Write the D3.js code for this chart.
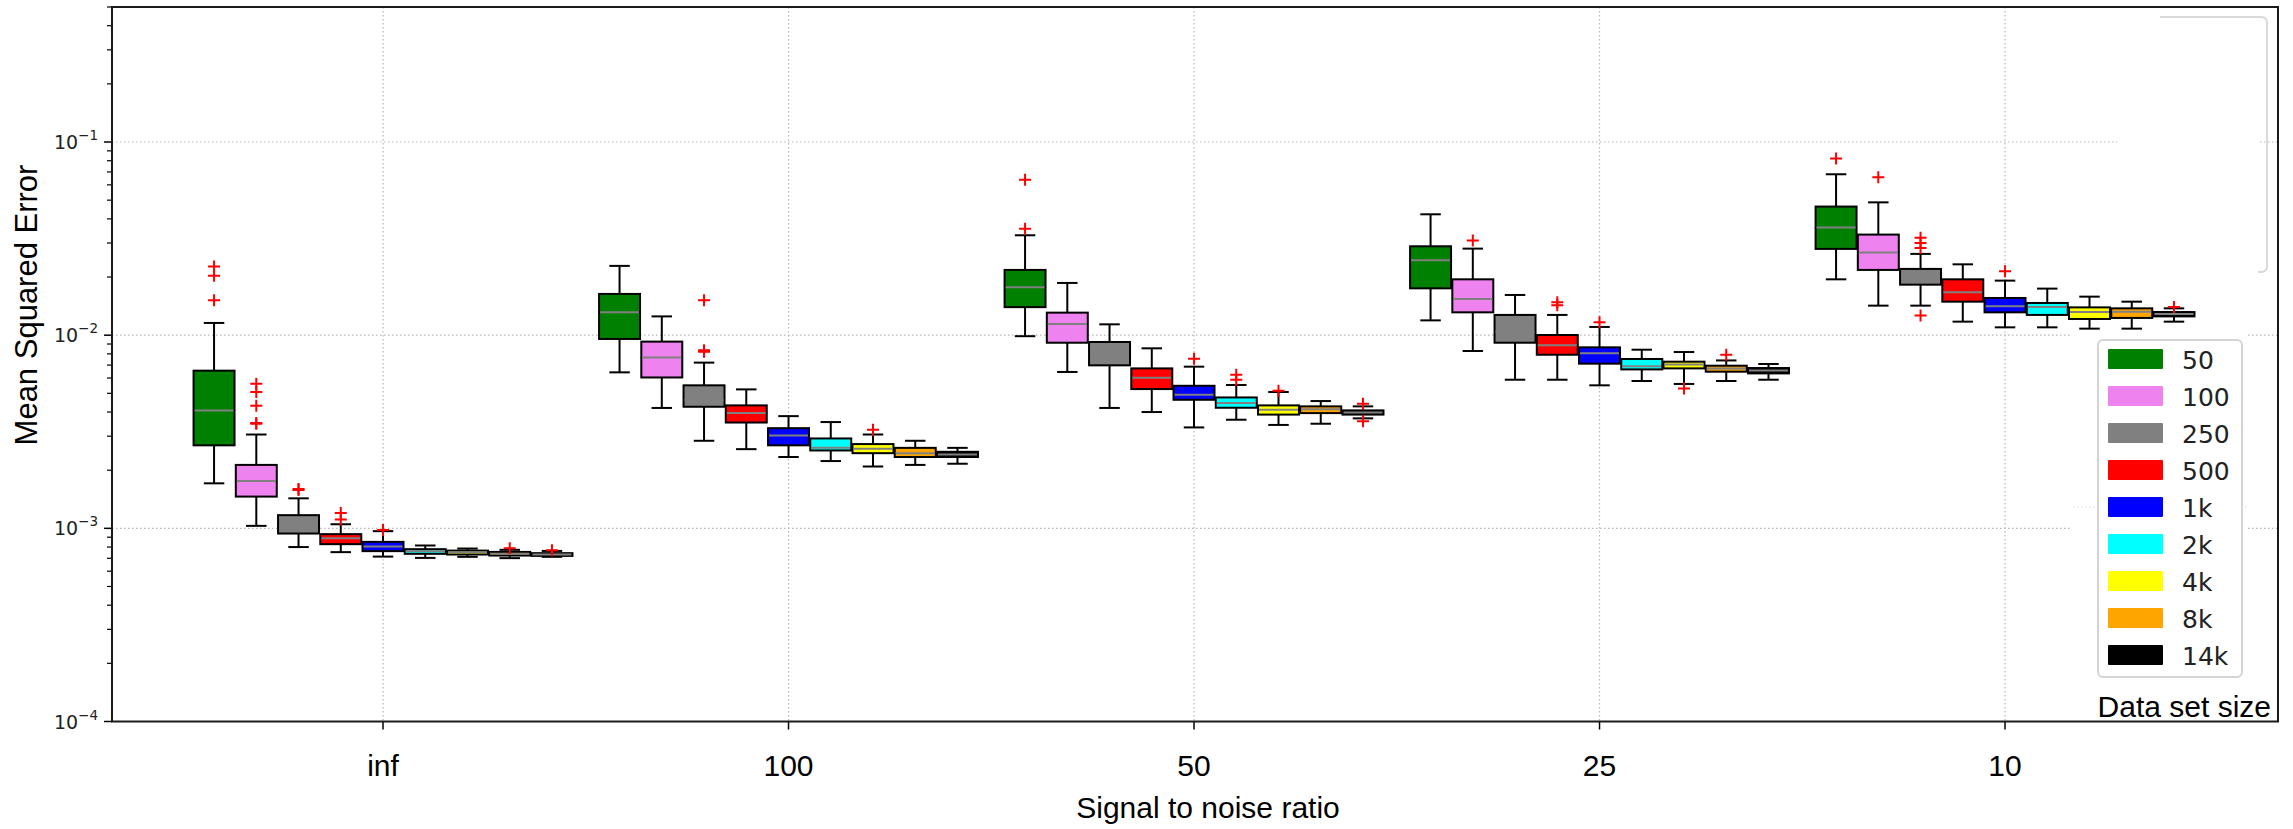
<!DOCTYPE html>
<html>
<head>
<meta charset="utf-8">
<script src="https://cdn.jsdelivr.net/npm/d3@7"></script>
<style>
  html, body { margin: 0; padding: 0; background: #fff; }
  svg { display: block; }
</style>
</head>
<body>
<svg id="chart" width="2293" height="829"></svg>
<script>
// ---------------- DATA ----------------
const snrLabels = ["inf", "100", "50", "25", "10"];
const sizeLabels = ["50", "100", "250", "500", "1k", "2k", "4k", "8k", "14k"];
const sizeColors = ["#008000", "#ee82ee", "#808080", "#ff0000", "#0000ff", "#00ffff", "#ffff00", "#ffa500", "#000000"];
const yTickValues = [1e-4, 1e-3, 1e-2, 1e-1];
const yTickExponents = ["\u22124", "\u22123", "\u22122", "\u22121"];

// one row per SNR group, one value per data set size
const lowerWhisker = [
  [0.00171, 0.00103, 0.00080, 0.000753, 0.000714, 0.000703, 0.000712, 0.000701, 0.000712],
  [0.00642, 0.00420, 0.00284, 0.00257, 0.00234, 0.00223, 0.00209, 0.00213, 0.00216],
  [0.00988, 0.00645, 0.00420, 0.00400, 0.00333, 0.00365, 0.00343, 0.00348, 0.00371],
  [0.01193, 0.00828, 0.00588, 0.00588, 0.00550, 0.00579, 0.00559, 0.00579, 0.00588],
  [0.01946, 0.01422, 0.01422, 0.01175, 0.01098, 0.01098, 0.01081, 0.01081, 0.01175]
];
const lowerQuartile = [
  [0.00269, 0.00146, 0.00094, 0.000828, 0.000762, 0.000738, 0.000732, 0.000723, 0.000720],
  [0.00956, 0.00604, 0.00426, 0.00353, 0.00269, 0.00253, 0.00245, 0.00234, 0.00234],
  [0.01397, 0.00914, 0.00698, 0.00526, 0.00463, 0.00421, 0.00388, 0.00395, 0.00388],
  [0.01748, 0.01313, 0.00914, 0.00792, 0.00712, 0.00665, 0.00673, 0.00647, 0.00634],
  [0.02797, 0.02177, 0.01826, 0.01491, 0.01313, 0.01273, 0.01213, 0.01228, 0.01251]
];
const medianValue = [
  [0.00408, 0.00176, 0.00104, 0.000889, 0.000805, 0.000762, 0.000753, 0.000738, 0.000732],
  [0.01313, 0.00767, 0.00463, 0.00395, 0.00302, 0.00261, 0.00258, 0.00245, 0.00241],
  [0.01770, 0.01143, 0.00824, 0.00602, 0.00492, 0.00445, 0.00411, 0.00414, 0.00398],
  [0.02440, 0.01540, 0.01034, 0.00886, 0.00805, 0.00690, 0.00704, 0.00673, 0.00657],
  [0.03606, 0.02677, 0.02040, 0.01667, 0.01410, 0.01400, 0.01318, 0.01323, 0.01288]
];
const upperQuartile = [
  [0.00655, 0.00213, 0.00117, 0.000933, 0.000851, 0.000780, 0.000767, 0.000755, 0.000744],
  [0.01635, 0.00926, 0.00550, 0.00433, 0.00330, 0.00292, 0.00273, 0.00261, 0.00249],
  [0.02177, 0.01308, 0.00922, 0.00673, 0.00547, 0.00476, 0.00433, 0.00428, 0.00408],
  [0.02885, 0.01946, 0.01273, 0.01002, 0.00865, 0.00753, 0.00729, 0.00695, 0.00676],
  [0.04633, 0.03317, 0.02203, 0.01946, 0.01558, 0.01468, 0.01393, 0.01377, 0.01318]
];
const upperWhisker = [
  [0.01157, 0.00306, 0.00143, 0.00105, 0.000967, 0.000815, 0.000786, 0.000774, 0.000764],
  [0.02284, 0.01251, 0.00721, 0.00524, 0.00381, 0.00355, 0.00306, 0.00284, 0.00261],
  [0.03290, 0.01864, 0.01138, 0.00855, 0.00687, 0.00552, 0.00508, 0.00456, 0.00428],
  [0.04225, 0.02806, 0.01615, 0.01273, 0.01103, 0.00841, 0.00818, 0.00740, 0.00709],
  [0.06808, 0.04871, 0.02635, 0.02327, 0.01916, 0.01742, 0.01583, 0.01491, 0.01377]
];
// outliers: [snr group index, size index, value]
const outliers = [
  [0, 0, 0.0227], [0, 0, 0.0203], [0, 0, 0.01515],
  [0, 1, 0.00561], [0, 1, 0.00508], [0, 1, 0.00431], [0, 1, 0.00351], [0, 1, 0.00348],
  [0, 2, 0.00158], [0, 2, 0.00160],
  [0, 3, 0.00120], [0, 3, 0.00111],
  [0, 4, 0.00098], [0, 7, 0.000789], [0, 8, 0.00077],
  [1, 2, 0.01515], [1, 2, 0.00821], [1, 2, 0.00835], [1, 6, 0.00324],
  [2, 0, 0.0637], [2, 0, 0.0356], [2, 4, 0.00755], [2, 5, 0.00624], [2, 5, 0.00588],
  [2, 6, 0.00515], [2, 8, 0.00442], [2, 8, 0.00358],
  [3, 1, 0.0309], [3, 3, 0.01479], [3, 3, 0.01427], [3, 4, 0.01165], [3, 6, 0.0053], [3, 7, 0.00792],
  [4, 0, 0.0821], [4, 1, 0.0657], [4, 2, 0.0319], [4, 2, 0.03003], [4, 2, 0.0283], [4, 2, 0.01266],
  [4, 4, 0.02141], [4, 8, 0.0140]
];

// ---------------- LAYOUT ----------------
const plot = { left: 112, right: 2278, top: 7, bottom: 721.5 };
const groupStep = 9.6;      // group spacing in box units
const boxWidth = 0.97;      // box width in box units
const svg = d3.select("#chart");

const x = d3.scaleLinear()
  .domain([-6.416, -6.416 + (plot.right - plot.left) / 42.24])
  .range([plot.left, plot.right]);
const y = d3.scaleLog().domain([1e-4, 0.5]).range([plot.bottom, plot.top]);

const groupPos = snrLabels.map((d, g) => g * groupStep);
const boxPos = (g, i) => x(groupPos[g] + (i - 4));
const boxPx = x(boxWidth) - x(0);

// ---------------- GRID ----------------
const grid = svg.append("g");
grid.selectAll("line.hg").data(yTickValues.slice(1)).join("line")
  .attr("x1", plot.left).attr("x2", plot.right)
  .attr("y1", d => y(d)).attr("y2", d => y(d))
  .attr("stroke", "#b8b8b8").attr("stroke-width", 1.2).attr("stroke-dasharray", "1.5,2.5");
grid.selectAll("line.vg").data(groupPos).join("line")
  .attr("x1", d => x(d)).attr("x2", d => x(d))
  .attr("y1", plot.top).attr("y2", plot.bottom)
  .attr("stroke", "#b8b8b8").attr("stroke-width", 1.2).attr("stroke-dasharray", "1.5,2.5");

// pasted-over areas (leftovers of an edited legend)
svg.append("rect").attr("x", 2117).attr("y", 19).attr("width", 141).attr("height", 251).attr("fill", "#fff");
svg.append("path")
  .attr("d", "M2160,17 H2261 Q2267,17 2267,23 V266 Q2267,272 2261,272 H2258")
  .attr("fill", "none").attr("stroke", "#d9d9d9").attr("stroke-width", 2);
svg.append("rect").attr("x", 2072).attr("y", 322).attr("width", 175).attr("height", 380).attr("fill", "#fff");
svg.append("line").attr("x1", 2073).attr("x2", 2247).attr("y1", 507).attr("y2", 507)
  .attr("stroke", "#d6d6d6").attr("stroke-width", 1.2).attr("stroke-dasharray", "1.5,2.5");

// ---------------- BOXES ----------------
const boxes = [];
snrLabels.forEach((s, g) => sizeLabels.forEach((z, i) => boxes.push({ g, i })));
const bg = svg.append("g");
const capHalf = boxPx / 4;
boxes.forEach(b => {
  const cx = boxPos(b.g, b.i);
  const lo = lowerWhisker[b.g][b.i], q1 = lowerQuartile[b.g][b.i], md = medianValue[b.g][b.i],
        q3 = upperQuartile[b.g][b.i], hi = upperWhisker[b.g][b.i];
  const grp = bg.append("g");
  grp.append("line").attr("x1", cx).attr("x2", cx).attr("y1", y(q3)).attr("y2", y(hi))
    .attr("stroke", "#000").attr("stroke-width", 2);
  grp.append("line").attr("x1", cx).attr("x2", cx).attr("y1", y(q1)).attr("y2", y(lo))
    .attr("stroke", "#000").attr("stroke-width", 2);
  [lo, hi].forEach(v => grp.append("line")
    .attr("x1", cx - capHalf).attr("x2", cx + capHalf).attr("y1", y(v)).attr("y2", y(v))
    .attr("stroke", "#000").attr("stroke-width", 2));
  grp.append("rect").attr("x", cx - boxPx / 2).attr("width", boxPx)
    .attr("y", y(q3)).attr("height", y(q1) - y(q3))
    .attr("fill", sizeColors[b.i]).attr("stroke", "#000").attr("stroke-width", 2);
  grp.append("line").attr("x1", cx - boxPx / 2 + 1).attr("x2", cx + boxPx / 2 - 1)
    .attr("y1", y(md)).attr("y2", y(md))
    .attr("stroke", "#808080").attr("stroke-width", 2);
});
// fliers
svg.append("g").selectAll("path").data(outliers).join("path")
  .attr("d", d => {
    const cx = boxPos(d[0], d[1]), cy = y(d[2]);
    return `M${cx - 6},${cy}H${cx + 6}M${cx},${cy - 6}V${cy + 6}`;
  })
  .attr("stroke", "#ff0000").attr("stroke-width", 2).attr("fill", "none");

// ---------------- AXES ----------------
const ax = svg.append("g");
// y major ticks
ax.selectAll("line.ymaj").data(yTickValues).join("line")
  .attr("x1", plot.left - 8).attr("x2", plot.left).attr("y1", d => y(d)).attr("y2", d => y(d))
  .attr("stroke", "#000").attr("stroke-width", 1.5);
// y minor ticks
const minor = [];
[1e-4, 1e-3, 1e-2, 1e-1].forEach(dec => { for (let k = 2; k <= 9; k++) { const v = k * dec; if (v <= 0.5) minor.push(v); } });
ax.selectAll("line.ymin").data(minor).join("line")
  .attr("x1", plot.left - 5).attr("x2", plot.left).attr("y1", d => y(d)).attr("y2", d => y(d))
  .attr("stroke", "#000").attr("stroke-width", 1.2);
// y tick labels 10^-k
const ylab = ax.selectAll("text.ylab").data(yTickValues).join("text")
  .attr("x", plot.left - 14).attr("y", d => y(d) + 7)
  .attr("text-anchor", "end")
  .attr("font-family", "DejaVu Sans").attr("font-size", 19).attr("fill", "#222");
ylab.append("tspan").text("10");
ylab.append("tspan").attr("dy", -9).attr("font-size", 13.5).text((d, i) => yTickExponents[i]);

// x ticks
ax.selectAll("line.xt").data(groupPos).join("line")
  .attr("x1", d => x(d)).attr("x2", d => x(d)).attr("y1", plot.bottom).attr("y2", plot.bottom + 8)
  .attr("stroke", "#000").attr("stroke-width", 1.5);
ax.selectAll("text.xl").data(groupPos).join("text")
  .attr("x", d => x(d)).attr("y", 776)
  .attr("text-anchor", "middle")
  .attr("font-family", "Liberation Sans, Arial").attr("font-size", 30).attr("fill", "#000")
  .text((d, i) => snrLabels[i]);

// frame
svg.append("rect").attr("x", plot.left).attr("y", plot.top)
  .attr("width", plot.right - plot.left).attr("height", plot.bottom - plot.top)
  .attr("fill", "none").attr("stroke", "#1a1a1a").attr("stroke-width", 2);

// axis titles
svg.append("text").attr("transform", "translate(37,305) rotate(-90)")
  .attr("text-anchor", "middle").attr("font-family", "Liberation Sans, Arial").attr("font-size", 31)
  .text("Mean Squared Error");
svg.append("text").attr("x", 1208).attr("y", 818)
  .attr("text-anchor", "middle").attr("font-family", "Liberation Sans, Arial").attr("font-size", 30)
  .text("Signal to noise ratio");

// ---------------- LEGEND ----------------
const lg = svg.append("g");
lg.append("rect").attr("x", 2098).attr("y", 340).attr("width", 144).attr("height", 337)
  .attr("rx", 5).attr("fill", "#fff").attr("stroke", "#d4d4d4").attr("stroke-width", 2);
const items = lg.selectAll("g.item").data(sizeLabels).join("g")
  .attr("transform", (d, i) => `translate(0,${359 + i * 37})`);
items.append("rect").attr("x", 2108).attr("y", -10).attr("width", 55).attr("height", 20).attr("rx", 1)
  .attr("fill", (d, i) => sizeColors[i]);
items.append("text").attr("x", 2182).attr("y", 9.5)
  .attr("font-family", "DejaVu Sans").attr("font-size", 25).attr("fill", "#222")
  .text(d => d);
svg.append("text").attr("x", 2271).attr("y", 717).attr("text-anchor", "end")
  .attr("font-family", "Liberation Sans, Arial").attr("font-size", 30)
  .text("Data set size");
</script>
</body>
</html>
